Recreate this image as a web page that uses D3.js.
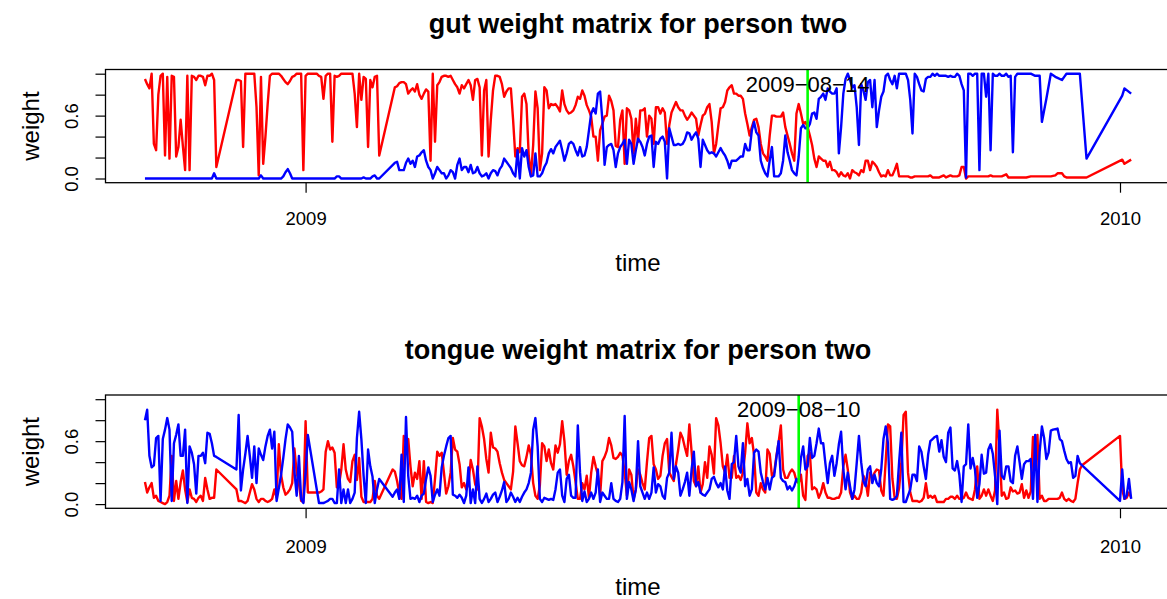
<!DOCTYPE html>
<html>
<head>
<meta charset="utf-8" />
<title>weight matrix for person two</title>
<script src="https://d3js.org/d3.v7.min.js"></script>
<style>
body{margin:0;background:#fff;}
svg text{font-family:"Liberation Sans",Arial,Helvetica,sans-serif;fill:#000;}
svg .box{fill:none;stroke:#000;stroke-width:1.3px;}
svg .red{fill:none;stroke:#ff0000;stroke-width:2.4px;stroke-linejoin:round;}
svg .blue{fill:none;stroke:#0000ff;stroke-width:2.4px;stroke-linejoin:round;}
svg .mark{stroke:#00ff00;stroke-width:2.6px;}
svg .tick line{stroke:#000;stroke-width:1.2px;}
</style>
</head>
<body>
<div id="chart"></div>
<script>
var width = 1167, height = 599;

// sample days, counted from 2009-01-01
var gutDay = [-72,-71,-70,-69,-68,-67,-66,-65,-64,-63,-62,-61,-60,-59,-58,-57,-56,-55,-54,-53,-52,-51,-50,-49,-48,-47,-46,-45,-44,-43,-42,-41,-40,
  -31,-30,-29,-28,-27,-26,-25,-24,-23,-22,-21,-20,-19,-18,-17,-16,-15,-14,-13,-12,-11,-10,-9,-8,-7,-6,-5,-4,-3,-2,-1,0,1,2,3,4,5,6,7,8,9,10,11,12,13,14,15,16,17,18,19,20,21,22,23,24,25,26,27,28,29,30,31,32,33,
  40,41,42,43,44,45,46,47,48,49,50,51,52,53,54,55,56,57,58,59,60,61,62,63,64,65,66,67,68,69,70,71,72,73,74,75,76,77,78,79,80,81,82,83,84,85,86,87,88,89,90,91,92,93,94,95,96,97,98,99,100,101,102,103,104,105,106,107,108,109,110,111,112,113,114,115,116,117,118,119,120,121,122,123,124,125,126,127,128,129,130,131,132,133,134,135,136,137,138,139,140,141,142,
  143,144,145,146,147,148,149,150,151,152,153,154,155,156,157,158,159,160,161,162,163,164,165,166,167,168,169,170,171,172,173,174,175,176,177,178,179,180,181,182,183,184,185,186,187,188,189,190,191,192,193,194,195,196,197,198,199,200,201,202,203,204,205,206,207,208,209,210,211,212,213,214,215,216,217,218,219,220,221,222,223,224,225,226,227,228,229,230,231,232,233,234,235,236,237,238,239,240,241,242,243,244,245,246,247,248,249,250,251,252,253,254,255,256,257,258,259,260,261,262,
  263,264,265,266,267,268,269,270,271,272,273,274,275,276,277,278,279,280,281,282,283,284,285,286,287,288,289,290,291,292,293,294,295,296,297,298,299,300,301,302,303,304,305,306,307,308,309,310,311,312,313,314,315,316,317,318,319,321,323,325,327,329,330,332,334,336,337,339,340,341,343,345,347,350,366,367,370];
var gutRed = [.95,.90,.86,1.0,.33,.27,.80,.98,1.0,.22,.97,.19,.98,.97,.21,.30,.56,.31,.08,.98,.08,.98,.97,.94,.98,.98,.97,.89,.98,.98,1.0,.94,.11,
  .94,.94,.93,.30,1.0,1.0,1.0,1.0,1.0,.68,.03,.97,.14,.40,.71,.98,1.0,1.0,1.0,1.0,.98,.95,.92,.90,.93,.97,.98,1.0,1.0,1.0,.08,.98,1.0,1.0,1.0,1.0,1.0,.98,.97,.76,.98,1.0,1.0,.35,.98,.97,.98,1.0,1.0,1.0,1.0,1.0,1.0,.81,.49,1.0,.75,.97,.95,.30,.94,.87,.97,.98,.22,
  .87,.88,.91,.92,.92,.90,.81,.84,.86,.83,.90,.80,.76,.81,.85,.83,.17,1.0,.35,.89,.92,.97,.98,.98,.97,.98,.94,.90,.87,.81,.89,.86,.90,.94,.89,.75,.94,.95,.87,.22,.84,.94,.21,.56,.84,.98,.98,.97,.90,.78,.83,.86,.86,.56,.21,.29,.25,.78,.81,.71,.22,.03,.32,.83,.67,.08,.24,.87,.84,.67,.71,.70,.71,.68,.64,.84,.71,.65,.62,.63,.65,.70,.78,.76,.84,.79,.70,.65,.59,.40,.40,.17,.46,.52,.59,.60,.79,.74,.65,.31,.30,.56,.65,
  .14,.67,.65,.57,.24,.57,.35,.65,.65,.67,.40,.60,.57,.33,.68,.68,.62,.67,.63,.33,.51,.63,.68,.73,.68,.65,.65,.60,.56,.59,.63,.60,.57,.41,.51,.60,.62,.68,.71,.54,.24,.33,.51,.67,.68,.73,.84,.87,.89,.81,.81,.79,.79,.76,.62,.52,.41,.49,.56,.57,.49,.33,.24,.21,.17,.41,.60,.60,.59,.59,.59,.63,.49,.41,.33,.24,.17,.62,.71,.62,.52,.54,.49,.41,.32,.19,.11,.21,.19,.17,.17,.11,.16,.08,.08,.06,.02,.06,.03,.02,.05,0,.08,.06,.05,.03,.08,.06,.17,.17,.08,.16,.14,.11,.06,.02,.03,.02,.08,.03,
  .03,.08,.14,.02,.02,.02,.02,.02,.01,.01,.02,.02,.02,.02,.02,.02,.02,.03,.01,.01,.01,.01,.02,.03,.01,.02,.03,.02,.02,.02,.03,.11,.11,0,.02,.02,.02,.02,.02,.02,.02,.02,.02,.02,.03,.02,.02,.02,.02,.02,.03,.04,.01,.01,.01,.01,.01,.01,.01,.02,.02,.02,.02,.02,.02,.03,.05,.05,.02,.01,.01,.01,.01,.01,.18,.14,.18];
var gutBlue = [0,0,0,0,0,0,0,0,0,0,0,0,0,0,0,0,0,0,0,0,0,0,0,0,0,0,0,0,0,0,0,.05,0,
  0,0,0,0,0,0,0,0,0,0,0,.03,0,0,0,0,0,0,0,0,0,.02,.06,.09,.05,0,0,0,0,0,0,0,0,0,0,0,0,0,0,0,0,0,0,0,0,.02,.02,0,0,0,0,0,0,0,0,0,0,.01,0,0,0,.02,.03,0,0,
  .15,.16,.08,.08,.08,.15,.19,.14,.17,.11,.21,.22,.25,.27,.17,.11,.08,0,.05,.11,.08,.05,.05,0,.03,.08,.06,0,.13,.19,.08,.11,.11,.06,.13,.05,.06,.11,.05,.02,.03,.05,0,.05,.08,.07,.03,.09,.12,.19,.16,.13,.10,.05,.02,.27,0,.29,.21,.27,.11,.02,.03,.24,.02,.02,.05,.11,.15,.24,.28,.24,.30,.33,.36,.27,.17,.24,.33,.35,.33,.27,.22,.30,.21,.22,.30,.46,.62,.67,.62,.81,.83,.56,.13,.30,.32,.33,.27,.11,.24,.30,.33,
  .37,.14,.37,.33,.14,.27,.38,.35,.30,.22,.33,.40,.41,.11,.35,.33,.38,.40,.35,0,.48,.40,.32,.32,.33,.32,.33,.37,.44,.43,.37,.41,.44,.38,.11,.37,.32,.27,.24,.25,.24,.21,.25,.29,.25,.22,.17,.10,.17,.17,.17,.19,.21,.21,.33,.27,.27,.46,.54,.44,.41,.17,.10,.05,.02,.17,.30,.02,.02,.02,.05,.17,.41,.25,.17,.08,.05,.03,.21,.48,.51,.48,.48,.52,.62,.63,.57,.76,.78,.81,.75,.86,.83,.81,.81,.86,.24,.49,.81,.95,1.0,.94,.87,.89,.68,.32,.90,.84,.75,.92,.94,.68,.94,.49,.65,.78,.83,.98,1.0,.94,
  .90,.98,.86,1.0,1.0,1.0,1.0,.94,.75,.43,1.0,.97,.90,.84,.83,.95,.97,.97,1.0,.98,1.0,.98,.98,.98,.98,.97,.98,.97,.97,1.0,.98,.90,.84,.01,1.0,1.0,.98,1.0,1.0,.08,1.0,1.0,.78,1.0,.27,1.0,.98,.98,1.0,.98,.98,1.0,.97,.98,.25,.97,1.0,1.0,1.0,1.0,.98,.98,.54,.76,1.0,.97,.96,.94,.97,1.0,1.0,1.0,1.0,.19,.79,.86,.81];

var tongueDay = [-72,-71,-70,-69,-68,-67,-66,-65,-64,-63,-62,-61,-60,-59,-58,-57,-56,-55,-54,-53,-52,-51,-50,-49,-48,-47,-46,-45,-44,-43,-42,-41,-40,
  -31,-30,-29,-28,-27,-26,-25,-24,-23,-22,-21,-20,-19,-18,-17,-16,-15,-14,-13,-12,-11,-10,-9,-8,-7,-6,-5,-4,-3,-2,-1,0,1,
  6,7,8,9,10,11,12,13,14,15,16,17,18,19,20,21,22,23,24,25,26,27,28,29,30,31,32,33,
  39,40,41,42,43,44,45,46,47,48,49,50,51,52,53,54,55,56,57,58,59,60,61,62,63,64,65,66,67,68,69,70,71,72,73,74,75,76,77,78,79,80,81,82,83,84,85,86,87,88,89,90,91,92,93,94,95,96,97,98,99,100,101,102,103,104,105,106,107,108,109,110,111,112,113,114,115,116,117,118,119,120,121,122,123,124,125,126,127,128,129,130,131,132,133,134,135,136,137,138,139,140,141,142,
  143,144,145,146,147,148,149,150,151,152,153,154,155,156,157,158,159,160,161,162,163,164,165,166,167,168,169,170,171,172,173,174,175,176,177,178,179,180,181,182,183,184,185,186,187,188,189,190,191,192,193,194,195,196,197,198,199,200,201,202,203,204,205,206,207,208,209,210,211,212,213,214,215,216,217,218,219,220,221,222,223,224,225,226,227,228,229,230,231,232,233,234,235,236,237,238,239,240,241,242,243,244,245,246,247,248,249,250,251,252,253,254,255,256,257,
  258,259,260,261,262,263,264,265,266,267,268,269,270,271,272,273,274,275,276,277,278,279,280,281,282,283,284,285,286,287,288,289,290,291,292,293,294,295,296,297,298,299,300,301,302,303,304,305,306,307,308,309,310,311,312,313,314,315,316,317,318,319,320,321,322,323,324,325,326,327,328,329,330,331,332,333,334,335,337,338,339,340,341,342,343,344,345,346,347,348,365,366,367,368,369,370];
var tongueRed = [.21,.11,.16,.20,.06,.08,.03,.02,.01,0,.02,.08,.46,.03,.22,.05,.21,.32,.14,.02,.14,.06,.05,.02,.06,.08,.03,.25,.14,.05,.06,.06,.33,
  .14,.03,.03,.02,.01,.03,.11,.19,.14,.05,.02,.05,.05,.03,.02,.03,.05,.14,.06,.57,.28,.16,.09,.11,.14,.20,.53,.30,.20,.03,.02,.79,.11,
  .11,.12,.14,.50,.60,.52,.54,.49,.16,.19,.33,.57,.33,.24,.21,.41,.47,.23,.44,.07,.02,.02,.02,.02,.05,.22,.08,.05,
  .33,.31,.22,.10,.05,.65,.60,.62,.36,.17,.30,.24,.41,.05,.41,.02,.01,.02,.01,.24,.50,.46,.49,.30,.10,.17,.30,.63,.52,.50,.38,.16,.20,.14,.19,.42,.33,.19,.14,.82,.74,.62,.43,.30,.68,.54,.53,.50,.39,.30,.23,.20,.17,.14,.31,.74,.58,.41,.37,.36,.45,.56,.47,.20,.08,.05,.18,.58,.55,.41,.52,.39,.33,.56,.49,.57,.79,.60,.28,.41,.47,.36,.21,.05,.05,.20,.14,.27,.06,.30,.45,.36,.28,.08,.41,.45,.51,.63,.56,.44,.43,.45,.49,.46,
  .30,.08,.33,.28,.05,.14,.33,.28,.20,.14,.40,.63,.65,.38,.33,.24,.27,.46,.58,.62,.30,.26,.22,.38,.52,.68,.63,.54,.46,.76,.50,.22,.17,.36,.11,.19,.40,.25,.55,.47,.29,.82,.75,.58,.36,.30,.47,.25,.25,.46,.25,.27,.23,.30,.49,.77,.58,.63,.47,.11,.08,.20,.14,.11,.52,.48,.27,.30,.46,.59,.75,.33,.25,.25,.30,.33,.30,.22,.20,.28,.08,.04,.46,.49,.14,.16,.14,.06,.11,.20,.11,.06,.06,.05,.05,.06,.06,.11,.36,.47,.33,.11,.05,.08,.05,.05,.11,.27,.22,.08,.30,.25,.30,.33,.32,
  .13,.08,.41,.76,.74,.24,.06,.05,.15,.39,.85,.88,.30,.11,.03,.03,.03,.02,.03,.06,.20,.06,.08,.06,.08,.02,.02,.02,.02,.05,.05,.07,.07,.05,.08,.05,.05,.06,.11,.06,.05,.04,.14,.36,.05,.08,.14,.08,.14,.08,.03,.13,.90,.55,.08,.11,.05,.06,.16,.12,.13,.10,.11,.19,.06,.13,.06,.12,.64,.33,.66,.05,.08,.03,.03,.05,.05,.05,.05,.06,.11,.05,.03,.05,.03,.02,.05,.20,.33,.37,.65,.14,.05,.06,.11,.06];
var tongueBlue = [.80,.90,.46,.35,.37,.63,.65,.03,.62,.71,.82,.71,.03,.58,.66,.76,.46,.46,.71,.01,.55,.49,.38,.10,.46,.46,.49,.39,.68,.67,.58,.46,.45,
  .33,.85,.13,.33,.48,.65,.46,.25,.55,.20,.53,.47,.42,.55,.65,.71,.53,.69,.03,.15,.28,.44,.62,.76,.73,.69,.31,.08,.46,.05,.01,.30,.66,
  .01,.01,.01,.02,.03,.05,.05,.01,.01,.33,.01,.14,.01,.14,.01,.05,.11,.63,.88,.62,.27,.01,.52,.36,.26,.01,.14,.24,
  .07,.11,.14,.05,.47,.02,.83,.27,.05,.06,.05,.08,.02,.08,.10,.24,.35,.27,.02,.09,.14,.08,.35,.46,.55,.63,.65,.09,.08,.06,.09,.06,.01,.08,.35,.01,.14,.01,.36,.05,.01,.05,.10,.02,.05,.09,.11,.02,.07,.13,.21,.02,.05,.11,.07,.02,.06,.02,.07,.11,.14,.20,.30,.71,.82,.55,.05,.02,.06,.05,.04,.05,.04,.14,.30,.33,.08,.02,.24,.28,.08,.06,.06,.75,.30,.03,.12,.02,.05,.11,.05,.11,.33,.02,.11,.08,.05,.05,.20,.05,.03,.02,.05,.21,
  .84,.05,.21,.14,.03,.14,.60,.17,.11,.05,.11,.05,.11,.35,.11,.19,.17,.08,.05,.25,.30,.68,.24,.36,.30,.08,.14,.21,.30,.08,.33,.50,.17,.21,.11,.09,.08,.11,.14,.24,.26,.20,.16,.20,.14,.36,.13,.05,.38,.40,.65,.36,.30,.58,.17,.24,.08,.14,.49,.52,.50,.30,.21,.14,.25,.14,.25,.27,.44,.60,.25,.22,.21,.14,.17,.13,.17,.24,.21,.44,.55,.33,.36,.63,.44,.46,.58,.72,.58,.58,.38,.20,.39,.46,.27,.39,.57,.69,.33,.14,.30,.17,.05,.14,.39,.65,.40,.22,.17,.33,.36,.20,.28,.20,.17,
  .33,.62,.74,.58,.05,.04,.05,.08,.40,.68,.02,.02,.08,.14,.28,.28,.22,.55,.50,.36,.24,.47,.60,.62,.64,.65,.50,.61,.45,.40,.68,.73,.34,.32,.41,.28,.02,.36,.38,.76,.34,.44,.33,.06,.19,.47,.29,.30,.52,.57,.48,.27,0,.70,.27,.24,.36,.36,.22,.20,.46,.55,.40,.24,.38,.41,.41,.43,.05,.66,.02,.50,.74,.63,.43,.49,.70,.71,.72,.62,.60,.51,.43,.39,.40,.25,.27,.46,.39,.37,.03,.33,.05,.08,.24,.05];

var yearTicks = ["2009-01-01", "2010-01-01"];
var yearLabels = ["2009", "2010"];
var weightTicks = [0, 0.2, 0.4, 0.6, 0.8, 1.0];
var weightLabels = ["0.0", "", "", "0.6", "", ""];

var parse = d3.timeParse("%Y-%m-%d");
var day0 = parse("2009-01-01");

function rows(days, red, blue){
  return days.map(function(d, i){
    return {date: d3.timeDay.offset(day0, d), red: red[i], blue: blue[i]};
  });
}

var panels = [
  {title: "gut weight matrix for person two", data: rows(gutDay, gutRed, gutBlue),
   mark: "2009-08-14", top: 69.5, bottom: 182.7, titleY: 24, tickY: 218, labelY: 262},
  {title: "tongue weight matrix for person two", data: rows(tongueDay, tongueRed, tongueBlue),
   mark: "2009-08-10", top: 395, bottom: 508.3, titleY: 350, tickY: 546, labelY: 586}
];

var left = 105.5, right = 1170.6;

var svg = d3.select("#chart").append("svg")
  .attr("width", width)
  .attr("height", height);

panels.forEach(function(p){
  var ext = d3.extent(p.data, function(d){ return d.date; });
  var pad = (ext[1] - ext[0]) * 0.04;
  var x = d3.scaleTime()
    .domain([new Date(+ext[0] - pad), new Date(+ext[1] + pad)])
    .range([left, right]);
  var y = d3.scaleLinear()
    .domain([-0.04, 1.04])
    .range([p.bottom, p.top]);

  var g = svg.append("g");

  //lines
  var redLine = d3.line().x(function(d){ return x(d.date); }).y(function(d){ return y(d.red); });
  var blueLine = d3.line().x(function(d){ return x(d.date); }).y(function(d){ return y(d.blue); });
  g.append("path").datum(p.data).attr("class", "red").attr("d", redLine);
  g.append("path").datum(p.data).attr("class", "blue").attr("d", blueLine);

  //marker day
  var md = parse(p.mark);
  g.append("line").attr("class", "mark")
    .attr("x1", x(md)).attr("x2", x(md))
    .attr("y1", p.top).attr("y2", p.bottom);
  g.append("text")
    .attr("x", x(md)).attr("y", y(0.9))
    .attr("text-anchor", "middle")
    .attr("dominant-baseline", "central")
    .style("font-size", "22px")
    .text(p.mark.replace(/-/g, "\u2212"));

  //box
  g.append("rect").attr("class", "box")
    .attr("x", left).attr("y", p.top)
    .attr("width", right - left).attr("height", p.bottom - p.top);

  //axes
  var xa = g.append("g")
    .attr("transform", "translate(0," + p.bottom + ")")
    .call(d3.axisBottom(x)
      .tickValues(yearTicks.map(parse))
      .tickFormat(function(d, i){ return yearLabels[i]; })
      .tickSize(10));
  xa.select(".domain").remove();
  xa.selectAll("text")
    .attr("y", p.tickY - p.bottom)
    .attr("dy", "0.36em")
    .style("font-size", "18.5px")
    .style("font-family", "'Liberation Sans',Arial,sans-serif");

  var ya = g.append("g")
    .attr("transform", "translate(" + left + ",0)")
    .call(d3.axisLeft(y)
      .tickValues(weightTicks)
      .tickFormat(function(d, i){ return weightLabels[i]; })
      .tickSize(10));
  ya.select(".domain").remove();
  ya.selectAll("text")
    .attr("x", 0).attr("dy", null)
    .attr("transform", "translate(-34,0) rotate(-90)")
    .attr("text-anchor", "middle")
    .attr("dominant-baseline", "central")
    .style("font-size", "18.5px")
    .style("font-family", "'Liberation Sans',Arial,sans-serif");

  //titles
  svg.append("text")
    .attr("x", 638).attr("y", p.titleY)
    .attr("text-anchor", "middle").attr("dominant-baseline", "central")
    .style("font-size", "27px").style("font-weight", "bold")
    .text(p.title);
  svg.append("text")
    .attr("x", 638).attr("y", p.labelY)
    .attr("text-anchor", "middle").attr("dominant-baseline", "central")
    .style("font-size", "24px")
    .text("time");
  svg.append("text")
    .attr("transform", "translate(30," + ((p.top + p.bottom) / 2) + ") rotate(-90)")
    .attr("text-anchor", "middle").attr("dominant-baseline", "central")
    .style("font-size", "24px")
    .text("weight");
});
</script>
</body>
</html>
